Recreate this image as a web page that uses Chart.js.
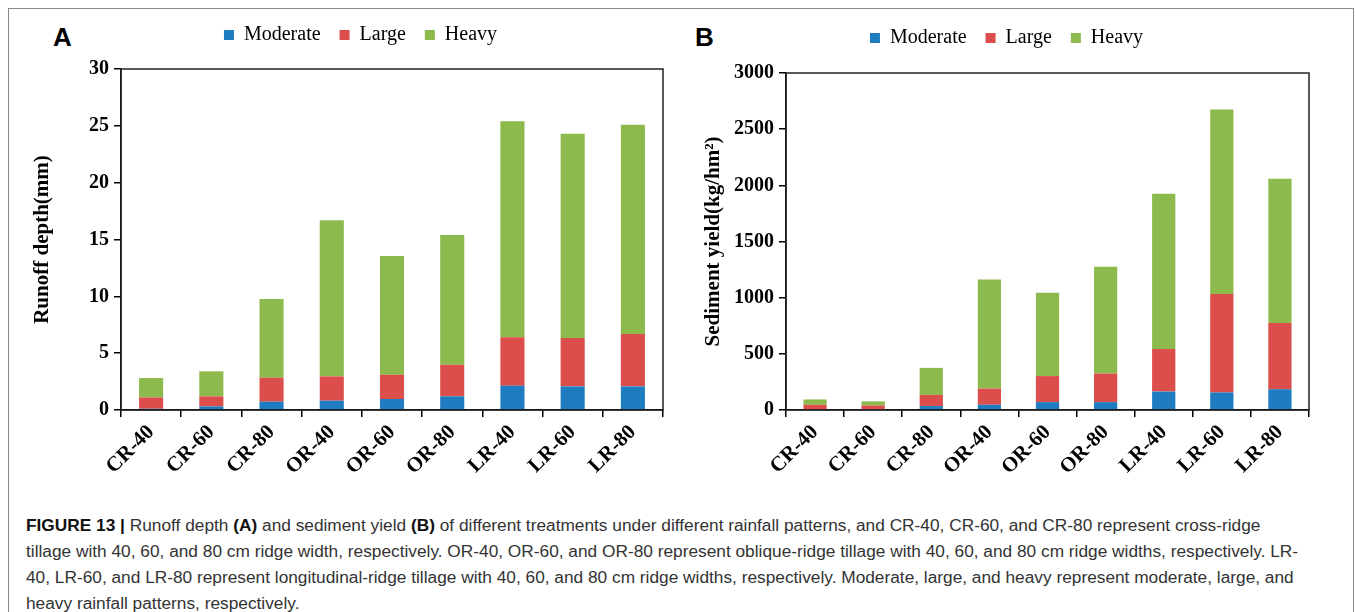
<!DOCTYPE html>
<html>
<head>
<meta charset="utf-8">
<script src="https://cdn.jsdelivr.net/npm/chart.js@4.4.1/dist/chart.umd.min.js"></script>
<style>
  html, body { margin: 0; padding: 0; background: #fff; overflow: hidden; }
  #frame { position: absolute; left: 8px; top: 8px; width: 1344px; height: 700px;
           border: 1px solid #8a8a8a; border-bottom: none; }
  .panel { position: absolute; font: bold 26px "Liberation Sans", Arial, sans-serif; color: #000; }
  .box { position: absolute; }
  #caption { position: absolute; left: 26px; top: 512px; font: 17.3px "Liberation Sans", Arial, sans-serif;
             line-height: 26px; color: #333; white-space: nowrap; }
  #caption b { color: #111; }
</style>
</head>
<body>
<div id="frame"></div>
<div class="panel" style="left:53px; top:22px;">A</div>
<div class="panel" style="left:695px; top:22px;">B</div>
<div class="box" style="left:0px; top:0px; width:700px; height:490px;"><canvas id="chartA"></canvas></div>
<div class="box" style="left:680px; top:0px; width:675px; height:490px;"><canvas id="chartB"></canvas></div>
<div id="caption"><b>FIGURE 13 |</b> Runoff depth <b>(A)</b> and sediment yield <b>(B)</b> of different treatments under different rainfall patterns, and CR-40, CR-60, and CR-80 represent cross-ridge<br>tillage with 40, 60, and 80 cm ridge width, respectively. OR-40, OR-60, and OR-80 represent oblique-ridge tillage with 40, 60, and 80 cm ridge widths, respectively. LR-<br>40, LR-60, and LR-80 represent longitudinal-ridge tillage with 40, 60, and 80 cm ridge widths, respectively. Moderate, large, and heavy represent moderate, large, and<br>heavy rainfall patterns, respectively.</div>

<script>
var treatments = ["CR-40", "CR-60", "CR-80", "OR-40", "OR-60", "OR-80", "LR-40", "LR-60", "LR-80"];
var rainfall = ["Moderate", "Large", "Heavy"];
var colors = ["#1f7cc0", "#dc4e4b", "#8cba4c"];

// runoff depth (mm), stacked by rainfall pattern
var runoffModerate = [0.11, 0.32, 0.73, 0.82, 0.97, 1.2, 2.14, 2.08, 2.08];
var runoffLarge = [1.0, 0.88, 2.11, 2.14, 2.13, 2.78, 4.25, 4.25, 4.6];
var runoffHeavy = [1.7, 2.2, 6.92, 13.74, 10.44, 11.42, 19.01, 17.97, 18.42];

// sediment yield (kg/hm2)
var sedimentModerate = [5, 3, 35, 47, 70, 70, 164, 156, 185];
var sedimentLarge = [42, 38, 100, 144, 232, 255, 379, 876, 589];
var sedimentHeavy = [47, 36, 240, 970, 742, 950, 1383, 1642, 1284];

var serif = "'Liberation Serif', 'Times New Roman', serif";

// box around the plot area (top and right edges too)
var plotFrame = {
    id: "plotFrame",
    afterDatasetsDraw: function (chart) {
        var a = chart.chartArea;
        var ctx = chart.ctx;
        ctx.save();
        ctx.strokeStyle = "#222";
        ctx.lineWidth = 1.5;
        ctx.strokeRect(a.left, a.top, a.right - a.left, a.bottom - a.top);
        ctx.restore();
    },
};

// extra room under the legend
var legendGap = {
    id: "legendGap",
    beforeInit: function (chart, args, opts) {
        var fit = chart.legend.fit;
        chart.legend.fit = function () {
            fit.call(this);
            this.height += opts.extra || 0;
        };
    },
};

function make_chart(id, values, yMax, step, yTitle, pad, yWidth, spacer, gap) {
    var datasets = rainfall.map(function (name, i) {
        return {
            label: name,
            data: values[i],
            backgroundColor: colors[i],
            borderWidth: 0,
            categoryPercentage: 1,
            barPercentage: 0.4,
        };
    });

    var options = {
        responsive: true,
        maintainAspectRatio: false,
        animation: false,
        layout: { padding: pad },
        plugins: {
            legend: {
                display: true,
                position: "top",
                labels: {
                    boxWidth: 10,
                    boxHeight: 10,
                    padding: 19,
                    color: "#000",
                    font: { family: serif, size: 20 },
                },
            },
            legendGap: { extra: gap },
            tooltip: { enabled: false },
        },
        scales: {
            x: {
                stacked: true,
                border: { color: "#000", width: 1.5 },
                grid: { display: true, drawOnChartArea: false, tickLength: 7, color: "#000", lineWidth: 1.5 },
                ticks: {
                    color: "#000",
                    minRotation: 45,
                    maxRotation: 45,
                    padding: 3,
                    font: { family: serif, size: 21, weight: "bold" },
                },
                afterFit: function (s) { s.height = 80; },
            },
            y: {
                stacked: true,
                min: 0,
                max: yMax,
                border: { color: "#000", width: 1.5 },
                grid: { display: true, drawOnChartArea: false, tickLength: 7, color: "#000", lineWidth: 1.5 },
                ticks: {
                    stepSize: step,
                    color: "#000",
                    padding: 5,
                    font: { family: serif, size: 20, weight: "bold" },
                    callback: function (v) { return String(v); },
                },
                title: {
                    display: true,
                    text: yTitle,
                    color: "#000",
                    padding: { top: 4, bottom: 4 },
                    font: { family: serif, size: 21, weight: "bold" },
                },
                afterFit: function (s) { s.width = yWidth; },
            },
            spacer: {
                position: "right",
                display: true,
                grid: { display: false },
                border: { display: false },
                ticks: { display: false },
                afterFit: function (s) { s.width = spacer; },
            },
        },
    };

    var ctx = document.getElementById(id).getContext("2d");
    return new Chart(ctx, {
        type: "bar",
        data: { labels: treatments, datasets: datasets },
        options: options,
        plugins: [plotFrame, legendGap],
    });
}

make_chart("chartA", [runoffModerate, runoffLarge, runoffHeavy], 30, 5, "Runoff depth(mm)",
    { left: 26, right: 5, top: 6, bottom: 0 }, 95, 32, 14);
make_chart("chartB", [sedimentModerate, sedimentLarge, sedimentHeavy], 3000, 500, "Sediment yield(kg/hm\u00b2)",
    { left: 17, right: 39, top: 9, bottom: 0 }, 89, 7, 15);
</script>
</body>
</html>
